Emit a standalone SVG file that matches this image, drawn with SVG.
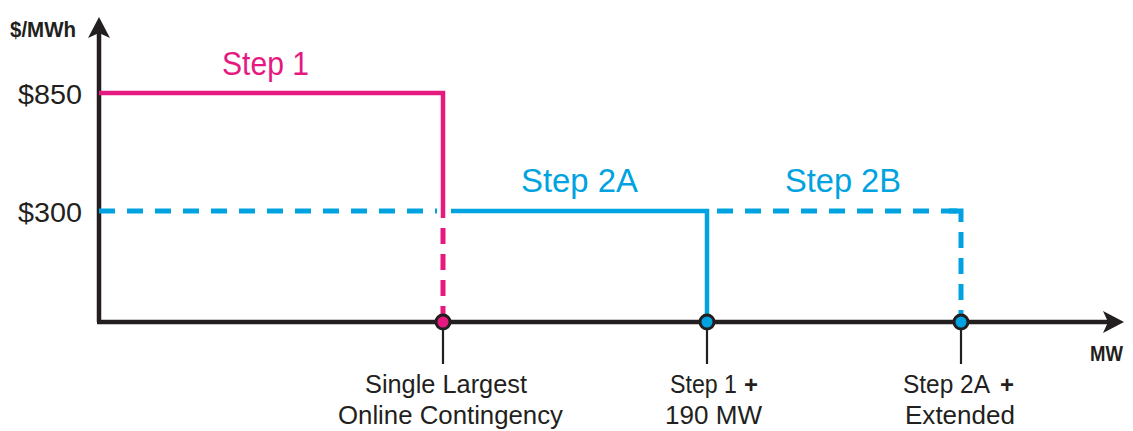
<svg xmlns="http://www.w3.org/2000/svg" width="1133" height="431" viewBox="0 0 1133 431">
<defs>
<style>
.ax{stroke:#231f20;stroke-width:4.5;fill:none}
.tick{stroke:#231f20;stroke-width:2.2}
.pk{stroke:#e5197f;stroke-width:4.5;fill:none}
.bl{stroke:#00a3df;stroke-width:4.5;fill:none}
.dsh{stroke-dasharray:16 12;stroke-width:5}
.dshv{stroke-dasharray:16 10;stroke-width:5}
.lbl{font-family:"Liberation Sans",Arial,sans-serif;font-size:25px;fill:#231f20}
.plus{font-family:"Liberation Sans",Arial,sans-serif;font-size:24px;font-weight:bold;fill:#231f20}
.val{font-family:"Liberation Sans",Arial,sans-serif;font-size:27px;fill:#231f20}
.bold{font-family:"Liberation Sans Narrow","Liberation Sans",Arial,sans-serif;font-weight:bold;font-size:22px;fill:#231f20}
.step{font-family:"Liberation Sans",Arial,sans-serif;font-size:33px}
.pt{stroke:#231f20;stroke-width:3}
</style>
</defs>
<g id="axes">
<path class="ax" d="M99 322 V32 M97 322 H1108"/>
<polygon points="99,17 110,38 99,33 88,38" fill="#231f20"/>
<polygon points="1124,322 1103,311 1108,322 1103,333" fill="#231f20"/>
<text class="bold" x="10" y="37" textLength="66" lengthAdjust="spacingAndGlyphs">$/MWh</text>
<text class="bold" x="1090" y="361" textLength="33" lengthAdjust="spacingAndGlyphs">MW</text>
<text class="val" x="18" y="104" textLength="64" lengthAdjust="spacingAndGlyphs">$850</text>
<text class="val" x="18" y="222" textLength="64" lengthAdjust="spacingAndGlyphs">$300</text>
</g>
<g id="connectors">
<path class="bl dsh" d="M99 211 H437"/>
<path class="bl" d="M451 211 H707 V322"/>
<path class="bl dsh" d="M717 211 H961"/>
<path class="bl" d="M949 211 H961 V222" style="stroke-width:5"/>
<path class="bl dshv" d="M961 232 V322"/>
<path class="pk" d="M99 93 H443 V218"/>
<path class="pk dshv" d="M443 228 V322"/>
<path class="tick" d="M443 322 V364 M707 322 V364 M961 322 V364"/>
</g>
<g id="step1">
<text class="step" x="222" y="75" fill="#e5197f" textLength="87" lengthAdjust="spacingAndGlyphs">Step 1</text>
</g>
<g id="step2a">
<text class="step" x="521" y="192" fill="#00a3df" textLength="117" lengthAdjust="spacingAndGlyphs">Step 2A</text>
</g>
<g id="step2b">
<text class="step" x="785" y="192" fill="#00a3df" textLength="116" lengthAdjust="spacingAndGlyphs">Step 2B</text>
</g>
<g id="p1">
<circle class="pt" cx="443" cy="322" r="7" fill="#e5197f"/>
<text class="lbl" x="365" y="393" textLength="162" lengthAdjust="spacingAndGlyphs">Single Largest</text>
<text class="lbl" x="338" y="424" textLength="225" lengthAdjust="spacingAndGlyphs">Online Contingency</text>
</g>
<g id="p2">
<circle class="pt" cx="707" cy="322" r="7" fill="#00a3df"/>
<text class="lbl" x="670" y="393" textLength="67" lengthAdjust="spacingAndGlyphs">Step 1</text>
<text class="plus" x="744" y="393">+</text>
<text class="lbl" x="665" y="424" textLength="97" lengthAdjust="spacingAndGlyphs">190 MW</text>
</g>
<g id="p3">
<circle class="pt" cx="961" cy="322" r="7" fill="#00a3df"/>
<text class="lbl" x="903" y="393" textLength="87" lengthAdjust="spacingAndGlyphs">Step 2A</text>
<text class="plus" x="1000" y="393">+</text>
<text class="lbl" x="905" y="424" textLength="110" lengthAdjust="spacingAndGlyphs">Extended</text>
</g>
</svg>
